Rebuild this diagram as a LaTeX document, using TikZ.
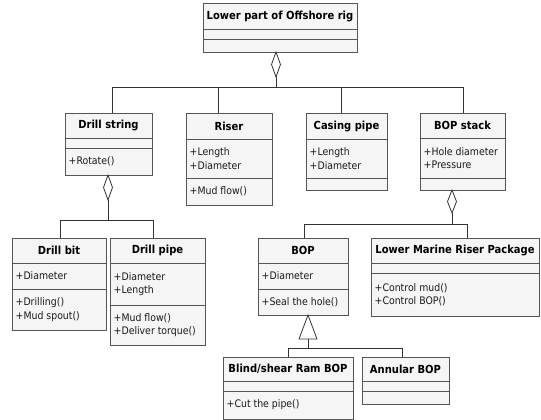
\documentclass[tikz,border=0pt]{standalone}
\usepackage{fontspec}
\setmainfont{DejaVuSansCondensed}[Extension=.ttf,BoldFont=DejaVuSansCondensed-Bold]
\usetikzlibrary{calc}
\definecolor{bordc}{HTML}{555555}
\definecolor{fillc}{HTML}{F5F5F5}
\definecolor{linec}{HTML}{333333}
\definecolor{txtc}{HTML}{1A1A1A}
\newcommand\umlbox[8]{%
  \node[boxst, minimum width={(#4-#2)*1pt}, minimum height={(#5-#3)*1pt}] (#1) at (#2,#3) {};
  \draw[sep] (#2,#6) -- (#4,#6) (#2,#7) -- (#4,#7);
  \node[ttl] (#1-t) at ({(#2+#4)/2},{(#3+#6)/2}) {#8};
}
\begin{document}
\begin{tikzpicture}[x=1pt,y=-1pt,
  boxst/.style={draw=bordc, fill=fillc, line width=0.8pt, inner sep=0pt, outer sep=0pt, anchor=north west},
  sep/.style={draw=bordc, line width=0.8pt},
  ttl/.style={font=\bfseries\fontsize{11.1}{12}\selectfont, inner sep=0pt, text=black},
  att/.style={font=\fontsize{10.4}{13.5}\selectfont, inner sep=0pt, anchor=west, align=left, text=txtc},
  conn/.style={draw=linec, line width=0.8pt},
  agg/.style={draw=linec, fill=white, line width=0.8pt},
]
\useasboundingbox (0,0) rectangle (541,420);

% classes
\umlbox{rig}{203}{3}{357}{52}{29}{39}{Lower part of Offshore rig}
\umlbox{dstr}{65}{113}{152}{175}{138}{148}{Drill string}
\node[att] (dstr-o) at (68.5,161.5) {+Rotate()};
\umlbox{riser}{186}{113}{272}{205}{139}{178}{Riser}
\node[att] (riser-a) at (189.5,158.5) {+Length\\+Diameter};
\node[att] (riser-o) at (189.5,191.5) {+Mud flow()};
\umlbox{casing}{306}{113}{387}{190}{139}{178}{Casing pipe}
\node[att] (casing-a) at (309.5,158.5) {+Length\\+Diameter};
\umlbox{bops}{420}{113}{505}{190}{138}{178}{BOP stack}
\node[att] (bops-a) at (423.5,158) {+Hole diameter\\+Pressure};
\umlbox{dbit}{12}{238}{106}{330}{263}{289}{Drill bit}
\node[att] (dbit-a) at (15.5,276) {+Diameter};
\node[att] (dbit-o) at (15.5,309.5) {+Drilling()\\+Mud spout()};
\umlbox{dpipe}{110}{238}{205}{345}{263}{305}{Drill pipe}
\node[att] (dpipe-a) at (113.5,284) {+Diameter\\+Length};
\node[att] (dpipe-o) at (113.5,325) {+Mud flow()\\+Deliver torque()};
\umlbox{bop}{258}{238}{348}{315}{263}{289}{BOP}
\node[att] (bop-a) at (261.5,276) {+Diameter};
\node[att] (bop-o) at (261.5,302) {+Seal the hole()};
\umlbox{lmrp}{371}{238}{539}{316}{263}{273}{Lower Marine Riser Package}
\node[att] (lmrp-o) at (374.5,294.5) {+Control mud()\\+Control BOP()};
\umlbox{blind}{223}{357}{353}{419}{381}{391}{Blind/shear Ram BOP}
\node[att] (blind-o) at (226.5,405) {+Cut the pipe()};
\umlbox{ann}{362}{357}{449}{404}{381}{391}{Annular BOP}

% aggregation: rig
\coordinate (busA) at (276,87);
\coordinate (dA) at (rig.south -| busA);
\draw[agg] (dA) -- ++(-4.5,12.5) coordinate (dAl) -- ++(4.5,12.5) coordinate (dAe) -- ++(4.5,-12.5) -- cycle;
\draw[conn] (dAe) -- (busA);
\coordinate (sA1) at (112,87);
\coordinate (sA2) at (218,87);
\coordinate (sA3) at (341,87);
\coordinate (sA4) at (463,87);
\draw[conn] (sA1) -- (sA4);
\foreach \s/\n in {sA1/dstr, sA2/riser, sA3/casing, sA4/bops}
  \draw[conn] (\s) -- (\s |- \n.north);

% aggregation: drill string
\coordinate (busB) at (108,220);
\coordinate (dB) at (dstr.south -| busB);
\draw[agg] (dB) -- ++(-4.5,12.5) -- ++(4.5,12.5) coordinate (dBe) -- ++(4.5,-12.5) -- cycle;
\draw[conn] (dBe) -- (busB);
\coordinate (sB1) at (60,220);
\coordinate (sB2) at (153,220);
\draw[conn] (sB1) -- (sB2);
\foreach \s/\n in {sB1/dbit, sB2/dpipe}
  \draw[conn] (\s) -- (\s |- \n.north);

% aggregation: BOP stack
\coordinate (busC) at (452,224);
\coordinate (dC) at (bops.south -| busC);
\draw[agg] (dC) -- ++(-4.5,11.5) -- ++(4.5,11.5) coordinate (dCe) -- ++(4.5,-11.5) -- cycle;
\draw[conn] (dCe) -- (busC);
\coordinate (sC1) at (304,224);
\coordinate (sC2) at (467,224);
\draw[conn] (sC1) -- (sC2);
\foreach \s/\n in {sC1/bop, sC2/lmrp}
  \draw[conn] (\s) -- (\s |- \n.north);

% generalization: BOP
\coordinate (busD) at (308,348);
\coordinate (tD) at (bop.south -| busD);
\draw[agg] (tD) -- ++(-9,24) coordinate (tDl) -- ++(18,0) -- cycle;
\draw[conn] ($(tDl)+(9,0)$) -- (busD);
\coordinate (sD1) at (288,348);
\coordinate (sD2) at (402,348);
\draw[conn] (sD1) -- (sD2);
\foreach \s/\n in {sD1/blind, sD2/ann}
  \draw[conn] (\s) -- (\s |- \n.north);
\end{tikzpicture}
\end{document}
